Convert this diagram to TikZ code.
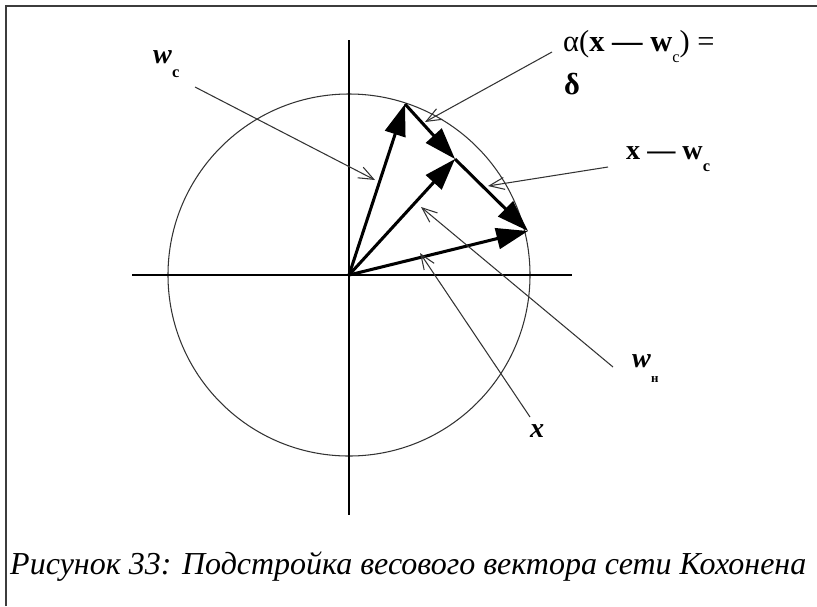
\documentclass[tikz,border=0pt]{standalone}
\usepackage{fontspec}
\setmainfont{Liberation Serif}
\usetikzlibrary{arrows.meta}
\definecolor{KohonenInk}{HTML}{000000}
\definecolor{KohonenLine}{HTML}{333333}
\definecolor{KohonenFrame}{HTML}{3C3C3C}
\newcommand{\kohsub}[2][-12pt]{\raisebox{#1}{\fontsize{14}{14}\selectfont\bfseries #2}}

\begin{document}
\begin{tikzpicture}[x=0.03cm,y=-0.03cm,
  vec/.style={KohonenInk,line width=2.6pt,-{Triangle[length=0.95cm,width=0.63cm]}},
  ptr/.style={KohonenLine,line width=0.9pt,-{Straight Barb[length=0.45cm,width=0.36cm]}},
  lbl/.style={inner sep=0pt,anchor=base west,font=\fontsize{24}{29}\selectfont\bfseries}]
  \useasboundingbox (0,0) rectangle (817,606);
  \draw[KohonenFrame,line width=1.6pt] (6,606) -- (6,6) -- (817,6);
  \coordinate (O) at (349,275);
  \coordinate (wc) at (405,104);
  \coordinate (wn) at (455,159);
  \coordinate (xv) at (528,231);
  \draw[KohonenLine,line width=0.9pt] (O) circle[radius=5.43cm];
  \draw[KohonenInk,line width=1.1pt] (132,275) -- (572,275);
  \draw[KohonenInk,line width=1.1pt] (349,40) -- (349,515);
  \draw[vec] (O) -- (wc);
  \draw[vec] (O) -- (wn);
  \draw[vec] (O) -- (xv);
  \draw[vec] (wc) -- (wn);
  \draw[vec] (wn) -- (xv);
  \node[lbl] (lwc) at (153,63) {\textit{w}\kohsub{c}};
  \node[lbl,font=\fontsize{26}{31}\selectfont\bfseries] (lal) at (563,51) {\textmd{α(}x — w\kohsub[-10pt]{\mdseries c}\textmd{) =}};
  \node[lbl,font=\fontsize{26}{31}\selectfont\bfseries] (ldelta) at (564,94) {δ};
  \node[lbl] (lxw) at (626,159) {x — w\kohsub[-11pt]{c}};
  \node[lbl] (lwn) at (632,367) {\textit{w}\kohsub[-13pt]{\fontsize{11}{11}\selectfont н}};
  \node[lbl] (lx) at (530,437) {\textit{x}};
  \coordinate (awc) at (375,180);
  \coordinate (aal) at (425,122);
  \coordinate (axw) at (488,186);
  \coordinate (awn) at (421,207);
  \coordinate (ax) at (420,253);
  \draw[ptr] ([shift={(42,24)}]lwc.base west) -- (awc);
  \draw[ptr] ([shift={(-11,1)}]lal.base west) -- (aal);
  \draw[ptr] ([shift={(-18,8)}]lxw.base west) -- (axw);
  \draw[ptr] ([shift={(-19,0)}]lwn.base west) -- (awn);
  \draw[ptr] ([shift={(0,-20)}]lx.base west) -- (ax);
  \node[inner sep=0pt,anchor=base west,font=\fontsize{27.3}{32}\selectfont\itshape] (cap) at (10,574) {Рисунок 33: Подстройка весового вектора сети Кохонена};
\end{tikzpicture}
\end{document}
